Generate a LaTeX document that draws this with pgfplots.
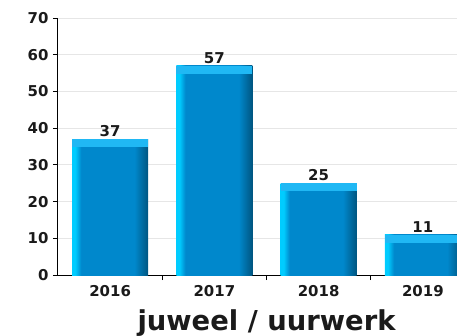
\documentclass[border=0pt]{standalone}
\usepackage{fontspec}
\setmainfont{DejaVu Sans}
\usepackage{pgfplots}
\pgfplotsset{compat=1.18}

\definecolor{barlight}{HTML}{00CCFF}
\definecolor{barmain}{HTML}{0088CC}
\definecolor{bardark}{HTML}{005580}
\definecolor{capc}{HTML}{20B8F4}
\definecolor{gridc}{HTML}{E6E6E6}
\definecolor{txt}{HTML}{1A1A1A}

% left edge bright, flat middle, darker right edge (path spans 25bp..75bp)
\pgfdeclarehorizontalshading{barshade}{100bp}{
  color(0bp)=(barlight); color(25bp)=(barlight); color(27bp)=(barlight);
  color(31bp)=(barmain); color(66bp)=(barmain); color(75bp)=(bardark);
  color(100bp)=(bardark)}

\pgfplotsset{
  bluebar/.style={draw=none, shading=barshade, bar shift=0pt,
    error bars/.cd, y dir=minus, y fixed=2.2, error mark=none,
    error bar style={line width=76bp, capc, line cap=butt, shading=none}},
}

\begin{document}
\begin{tikzpicture}
\clip (-58bp,-61bp) rectangle (399bp,275bp);
\begin{axis}[
  at={(0,0)}, anchor=south west,
  scale only axis,
  width=417bp, height=257bp,
  xmin=-0.5, xmax=3.5,
  ymin=0, ymax=70,
  ytick={0,10,...,70},
  xtick={0.5,1.5,2.5,3.5},
  xticklabels={},
  extra x ticks={0,1,2,3},
  extra x tick labels={2016,2017,2018,2019},
  extra x tick style={major tick length=0pt},
  axis x line*=bottom,
  axis y line*=left,
  axis line style={line width=1bp, draw=black},
  tick align=outside,
  major tick length=5bp,
  tick style={line width=0.8bp, black},
  ymajorgrids,
  major grid style={gridc, line width=1bp},
  /pgf/number format/assume math mode=true,
  ticklabel style={font=\fontsize{15}{17}\selectfont\bfseries, text=txt},
  yticklabel style={xshift=-1bp},
  xticklabel style={yshift=-7bp},
  xlabel={juweel / uurwerk},
  xlabel style={font=\fontsize{27.5}{31}\selectfont\bfseries, text=txt,
    at={(axis description cs:0.5,0)}, anchor=center, yshift=-48bp},
  ybar,
  bar width=0.73,
  nodes near coords,
  every node near coord/.append style={font=\fontsize{15}{17}\selectfont\bfseries,
    text=txt, inner sep=2bp},
]
\addplot[bluebar] coordinates {(0,37)};
\addplot[bluebar] coordinates {(1,57)};
\addplot[bluebar] coordinates {(2,25)};
\addplot[bluebar] coordinates {(3,11)};
\end{axis}
\end{tikzpicture}
\end{document}
